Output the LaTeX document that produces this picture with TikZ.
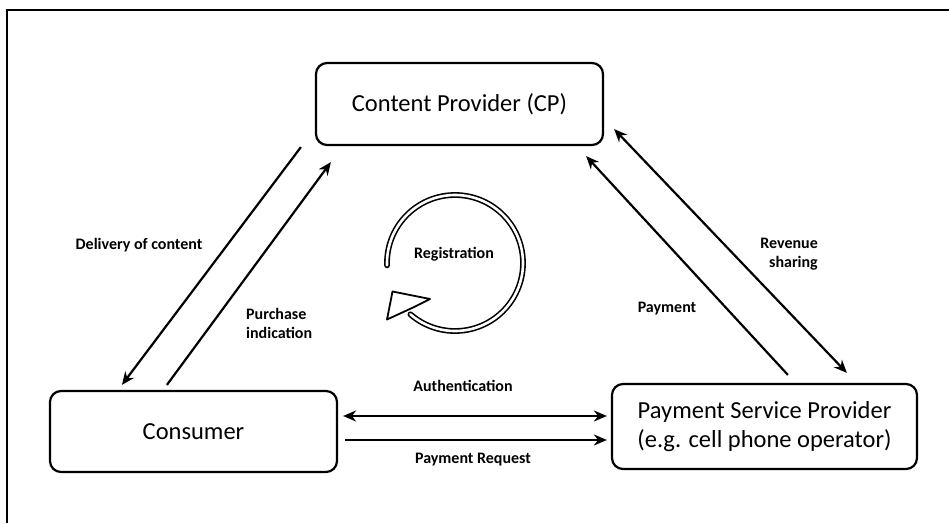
\documentclass[tikz,border=0pt]{standalone}
\usepackage{fontspec}
\setmainfont{Carlito}
\usetikzlibrary{arrows.meta,calc}
\begin{document}
\begin{tikzpicture}[x=1pt,y=-1pt,
  box/.style={draw, line width=2.2pt, rounded corners=11pt, align=center,
    font=\fontsize{24.5}{29}\selectfont, inner sep=0pt},
  lbl/.style={font=\fontsize{16}{19}\selectfont\bfseries, inner sep=0pt},
  conn/.style={line width=2.2pt, -{Stealth[length=13pt,width=11pt]}},
  bconn/.style={line width=2.2pt, {Stealth[length=13pt,width=11pt]}-{Stealth[length=13pt,width=11pt]}},
  ]
\useasboundingbox (0,0) rectangle (949,523);
\draw[line width=1.8pt] (949,10) -- (7,10) -- (7,523);

\node[box, minimum width=287pt, minimum height=82pt] (cp) at (459.5,104) {Content Provider (CP)};
\node[box, minimum width=287pt, minimum height=81pt] (con) at (193.5,431.5) {Consumer};
\node[box, minimum width=305pt, minimum height=85pt] (psp) at (764.5,426.5) {Payment Service Provider\\(e.g. cell phone operator)};

% connectors
\draw[conn] ([xshift=-14pt,yshift=-1pt]cp.south west) -- ([xshift=73pt,yshift=5pt]con.north west);
\draw[conn] ([xshift=118pt,yshift=5pt]con.north west) -- ([xshift=16pt,yshift=-16pt]cp.south west);
\draw[conn] ([xshift=177pt,yshift=8pt]psp.north west) -- ([xshift=-18pt,yshift=-10pt]cp.south east);
\draw[bconn] ([xshift=10pt,yshift=17pt]cp.south east) -- ([xshift=236pt,yshift=10pt]psp.north west);
\draw[bconn] ([xshift=5pt,yshift=15.5pt]con.east) -- ([xshift=-4pt,yshift=10.5pt]psp.west);
\draw[conn] ([xshift=7pt,yshift=-8.5pt]con.east) -- ([xshift=-4pt,yshift=-13.5pt]psp.west);

% labels
\node[lbl] (ldel) at (139,245) {Delivery of content};
\node[lbl, align=left, anchor=west] (lpur) at (246,323) {Purchase\\indication};
\node[lbl] (lpay) at (667,309) {Payment};
\node[lbl, align=right, anchor=east] (lrev) at (818,254) {Revenue\\sharing};
\node[lbl] (lauth) at (463,386) {Authentication};
\node[lbl] (lreq) at (473,460) {Payment Request};

% registration cycle
\node[lbl] (lreg) at (454,254) {Registration};
\coordinate (regc) at (455,263);
\draw[line width=1.6pt, double=white, double distance=2.6pt, line cap=round]
  (regc) ++(178:68) arc[start angle=178, end angle=491, radius=68];
\draw[line width=1.8pt, fill=white, line join=round]
  (392.5,291.5) -- (430,299) -- (412,308) -- (387,319.5) -- cycle;
\end{tikzpicture}
\end{document}
